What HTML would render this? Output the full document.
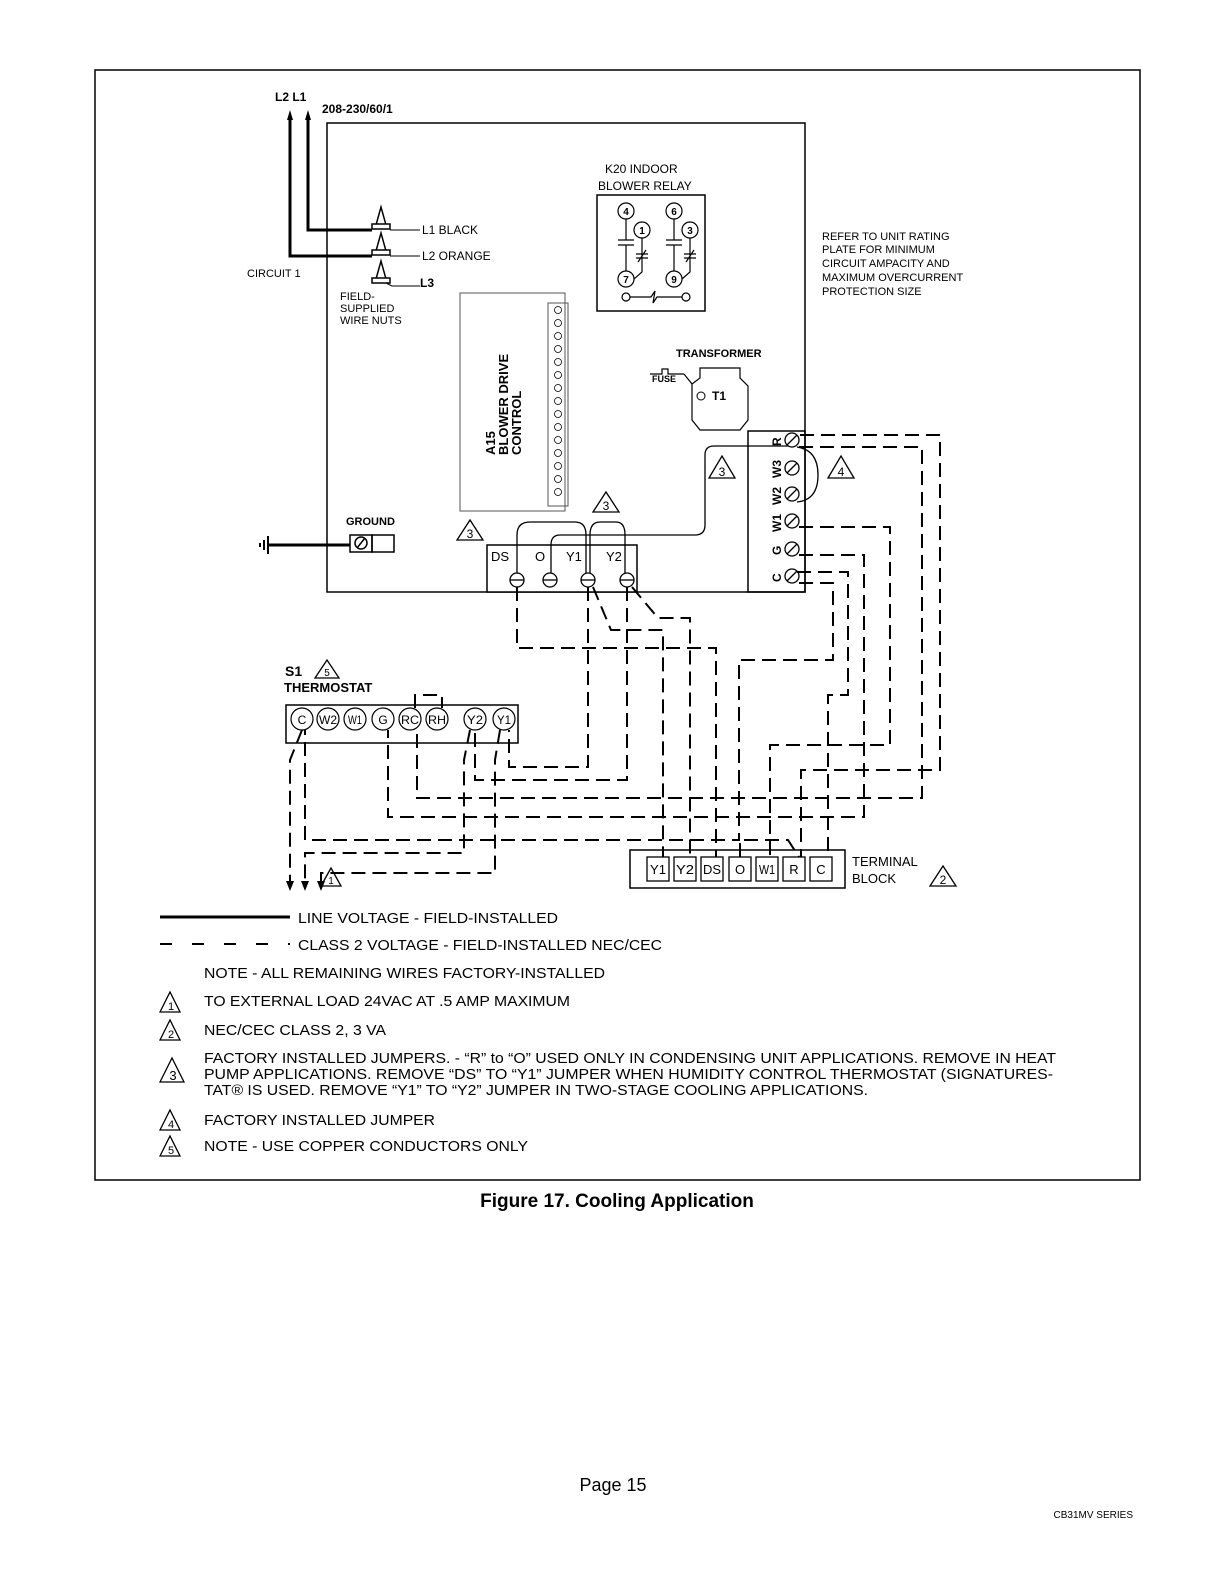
<!DOCTYPE html>
<html><head><meta charset="utf-8"><style>
html,body{margin:0;padding:0;background:#fff}
svg{display:block}
text{font-family:"Liberation Sans",sans-serif;fill:#000}
</style></head><body>
<svg width="1224" height="1584" viewBox="0 0 1224 1584" xmlns="http://www.w3.org/2000/svg">
<!-- outer frame -->
<rect x="95" y="70" width="1045" height="1110" fill="none" stroke="#000" stroke-width="1.5"/>
<!-- unit box -->
<rect x="327" y="123" width="478" height="469" fill="none" stroke="#000" stroke-width="1.5"/>

<!-- line voltage -->
<g stroke="#000" stroke-width="3" fill="none">
<path d="M308 118 V230 H372"/>
<path d="M290 118 V256 H372"/>
<path d="M268 545 H350"/>
</g>
<polygon points="308,110 305,120 311,120" fill="#000"/>
<polygon points="290,110 287,120 293,120" fill="#000"/>
<text x="275" y="101" font-size="12" font-weight="bold">L2 L1</text>
<text x="322" y="113" font-size="12" font-weight="bold">208-230/60/1</text>
<!-- wire nuts -->
<g stroke="#000" stroke-width="1.5" fill="#fff">
<path d="M376 225 L381 207 L386 225 Z"/><rect x="372" y="224" width="18" height="5"/>
<path d="M376 251 L381 233 L386 251 Z"/><rect x="372" y="250" width="18" height="5"/>
<path d="M376 279 L381 261 L386 279 Z"/><rect x="372" y="278" width="18" height="5"/>
</g>
<g stroke="#000" stroke-width="1" fill="none">
<path d="M390 230 H420"/><path d="M390 256 H420"/><path d="M386 283 L392 286 H420"/>
</g>
<text x="422" y="234" font-size="12">L1 BLACK</text>
<text x="422" y="260" font-size="12">L2 ORANGE</text>
<text x="420" y="287" font-size="12" font-weight="bold">L3</text>
<text x="247" y="277" font-size="11">CIRCUIT 1</text>
<text x="340" y="300" font-size="11">FIELD-</text>
<text x="340" y="312" font-size="11">SUPPLIED</text>
<text x="340" y="324" font-size="11">WIRE NUTS</text>

<!-- ground -->
<text x="346" y="525" font-size="11" font-weight="bold">GROUND</text>
<rect x="350" y="535" width="22" height="17" fill="none" stroke="#000" stroke-width="1.5"/>
<rect x="372" y="535" width="22" height="17" fill="none" stroke="#000" stroke-width="1.5"/>
<circle cx="361" cy="543" r="6" fill="none" stroke="#000" stroke-width="1.5"/>
<line x1="357" y1="548" x2="365" y2="538" stroke="#000" stroke-width="1.5"/>
<g stroke="#000" stroke-width="2"><line x1="264" y1="540" x2="264" y2="550"/><line x1="268" y1="536" x2="268" y2="554"/><line x1="260" y1="543" x2="260" y2="547"/></g>

<!-- K20 relay -->
<text x="605" y="173" font-size="12">K20 INDOOR</text>
<text x="598" y="190" font-size="12">BLOWER RELAY</text>
<rect x="597" y="195" width="108" height="116" fill="none" stroke="#000" stroke-width="1.5"/>
<g stroke="#000" stroke-width="1.2" fill="#fff">
<circle cx="626" cy="211" r="8"/><circle cx="642" cy="230" r="8"/><circle cx="626" cy="279" r="8"/>
<circle cx="674" cy="211" r="8"/><circle cx="690" cy="230" r="8"/><circle cx="674" cy="279" r="8"/>
<circle cx="626" cy="297" r="4"/><circle cx="686" cy="297" r="4"/>
<path d="M626 219 V240 M618 240 H634 M618 245 H634 M626 245 V271" fill="none"/>
<path d="M674 219 V240 M666 240 H682 M666 245 H682 M674 245 V271" fill="none"/>
<path d="M642 238 V272 L634 279 M636 254 L648 254 M636 258 H648 M638 262 L646 250" fill="none"/>
<path d="M690 238 V272 L682 279 M684 254 L696 254 M684 258 H696 M686 262 L694 250" fill="none"/>
<path d="M630 297 H651 L655 291 L653 303 L657 297 H682" fill="none"/>
</g>
<g font-size="10" font-weight="bold" text-anchor="middle">
<text x="626" y="215">4</text><text x="642" y="234">1</text><text x="626" y="283">7</text>
<text x="674" y="215">6</text><text x="690" y="234">3</text><text x="674" y="283">9</text>
</g>

<text x="822" y="240" font-size="11">REFER TO UNIT RATING</text>
<text x="822" y="253" font-size="11">PLATE FOR MINIMUM</text>
<text x="822" y="267" font-size="11">CIRCUIT AMPACITY AND</text>
<text x="822" y="281" font-size="11">MAXIMUM OVERCURRENT</text>
<text x="822" y="295" font-size="11">PROTECTION SIZE</text>

<!-- A15 -->
<rect x="460" y="293" width="105" height="218" fill="none" stroke="#555" stroke-width="1"/>
<rect x="548" y="303" width="20" height="203" fill="none" stroke="#555" stroke-width="1"/>
<g fill="none" stroke="#000" stroke-width="0.8">
<circle cx="558" cy="310" r="3.5"/><circle cx="558" cy="323" r="3.5"/><circle cx="558" cy="336" r="3.5"/><circle cx="558" cy="349" r="3.5"/><circle cx="558" cy="362" r="3.5"/><circle cx="558" cy="375" r="3.5"/><circle cx="558" cy="388" r="3.5"/><circle cx="558" cy="401" r="3.5"/><circle cx="558" cy="414" r="3.5"/><circle cx="558" cy="427" r="3.5"/><circle cx="558" cy="440" r="3.5"/><circle cx="558" cy="453" r="3.5"/><circle cx="558" cy="466" r="3.5"/><circle cx="558" cy="479" r="3.5"/><circle cx="558" cy="492" r="3.5"/>
</g>
<g transform="translate(495,455) rotate(-90)" font-size="13" font-weight="bold">
<text x="0" y="0">A15</text><text x="0" y="13">BLOWER DRIVE</text><text x="0" y="26">CONTROL</text>
</g>

<!-- transformer -->
<text x="676" y="357" font-size="11" font-weight="bold">TRANSFORMER</text>
<text x="652" y="382" font-size="9" font-weight="bold">FUSE</text>
<path d="M650 374 H662 V369 H668 V374 H684" fill="none" stroke="#000" stroke-width="1.2"/>
<path d="M684 374 L692 384 V420 L700 430 H740 L748 420 V386 L740 378 V368 H700 V378 L692 384" fill="none" stroke="#000" stroke-width="1.2"/>
<text x="712" y="400" font-size="12" font-weight="bold">T1</text>
<circle cx="701" cy="396" r="4" fill="none" stroke="#000"/>

<!-- low voltage block -->
<rect x="487" y="545" width="150" height="47" fill="#fff" stroke="#000" stroke-width="1.5"/>
<g font-size="13"><text x="491" y="561">DS</text><text x="535" y="561">O</text><text x="566" y="561">Y1</text><text x="606" y="561">Y2</text></g>
<g stroke="#000" stroke-width="1.3" fill="#fff">
<circle cx="517" cy="580" r="7"/><circle cx="550" cy="580" r="7"/><circle cx="588" cy="580" r="7"/><circle cx="627" cy="580" r="7"/>
</g>
<g stroke="#000" stroke-width="1.3"><line x1="510" y1="580" x2="524" y2="580"/><line x1="543" y1="580" x2="557" y2="580"/><line x1="581" y1="580" x2="595" y2="580"/><line x1="620" y1="580" x2="634" y2="580"/></g>
<!-- jumpers -->
<g stroke="#000" stroke-width="1.3" fill="none">
<path d="M517 573 V535 Q517 522 530 522 H575 Q586 522 586 535 V573"/>
<path d="M590 573 V535 Q590 522 600 522 H616 Q625 522 625 535 V573"/>
<path d="M551 573 V545 Q551 535 560 535 H695 Q705 535 705 525 V455 Q705 446 714 446 H790"/>
<path d="M797 447 Q818 450 818 475 Q818 500 797 502"/>
</g>
<!-- right TB -->
<rect x="748" y="431" width="57" height="161" fill="none" stroke="#000" stroke-width="1.5"/>
<g stroke="#000" stroke-width="1.3" fill="#fff">
<circle cx="792" cy="440" r="7"/><circle cx="792" cy="468" r="7"/><circle cx="792" cy="494" r="7"/><circle cx="792" cy="521" r="7"/><circle cx="792" cy="549" r="7"/><circle cx="792" cy="576" r="7"/>
</g>
<g stroke="#000" stroke-width="1.3"><line x1="787" y1="445" x2="797" y2="435"/><line x1="787" y1="473" x2="797" y2="463"/><line x1="787" y1="499" x2="797" y2="489"/><line x1="787" y1="526" x2="797" y2="516"/><line x1="787" y1="554" x2="797" y2="544"/><line x1="787" y1="581" x2="797" y2="571"/></g>
<g font-size="12" font-weight="bold">
<text transform="translate(781,446) rotate(-90)">R</text>
<text transform="translate(781,478) rotate(-90)">W3</text>
<text transform="translate(781,505) rotate(-90)">W2</text>
<text transform="translate(781,532) rotate(-90)">W1</text>
<text transform="translate(781,555) rotate(-90)">G</text>
<text transform="translate(781,582) rotate(-90)">C</text>
</g>

<!-- triangles -->
<g stroke="#000" stroke-width="1.3" fill="#fff">
<path d="M709 478 L722 456 L735 478 Z"/><path d="M828 478 L841 456 L854 478 Z"/>
<path d="M593 512 L606 492 L619 512 Z"/><path d="M457 540 L470 520 L483 540 Z"/>
<path d="M315 678 L327 660 L339 678 Z"/><path d="M930 886 L943 866 L956 886 Z"/>
<path d="M321 886 L331 868 L341 886 Z"/>
</g>
<g font-size="12" text-anchor="middle">
<text x="722" y="476">3</text><text x="841" y="476">4</text><text x="606" y="510">3</text><text x="470" y="538">3</text>
<text x="327" y="676" font-size="10">5</text><text x="943" y="884">2</text><text x="331" y="884" font-size="10">1</text>
</g>

<!-- thermostat -->
<text x="285" y="676" font-size="14" font-weight="bold">S1</text>
<text x="284" y="692" font-size="13" font-weight="bold">THERMOSTAT</text>
<rect x="286" y="705" width="232" height="38" fill="none" stroke="#000" stroke-width="1.5"/>
<g stroke="#000" stroke-width="1.2" fill="#fff">
<circle cx="302" cy="719" r="11"/><circle cx="328" cy="719" r="11"/><circle cx="355" cy="719" r="11"/><circle cx="383" cy="719" r="11"/>
<circle cx="410" cy="719" r="11"/><circle cx="437" cy="719" r="11"/><circle cx="475" cy="719" r="11"/><circle cx="504" cy="719" r="11"/>
</g>
<g font-size="12" text-anchor="middle">
<text x="302" y="724">C</text><text x="328" y="724" textLength="18" lengthAdjust="spacingAndGlyphs">W2</text><text x="355" y="724" textLength="14" lengthAdjust="spacingAndGlyphs">W1</text><text x="383" y="724">G</text>
<text x="410" y="724" textLength="18" lengthAdjust="spacingAndGlyphs">RC</text><text x="437" y="724" textLength="18" lengthAdjust="spacingAndGlyphs">RH</text><text x="475" y="724" textLength="16" lengthAdjust="spacingAndGlyphs">Y2</text><text x="504" y="724" textLength="14" lengthAdjust="spacingAndGlyphs">Y1</text>
</g>

<!-- terminal block -->
<rect x="630" y="850" width="215" height="38" fill="none" stroke="#000" stroke-width="1.5"/>
<g stroke="#000" stroke-width="1.3" fill="#fff">
<rect x="647" y="857" width="22" height="24"/><rect x="674" y="857" width="22" height="24"/><rect x="701" y="857" width="22" height="24"/><rect x="729" y="857" width="22" height="24"/><rect x="756" y="857" width="22" height="24"/><rect x="783" y="857" width="22" height="24"/><rect x="810" y="857" width="22" height="24"/>
</g>
<g font-size="13" text-anchor="middle">
<text x="658" y="874" textLength="16" lengthAdjust="spacingAndGlyphs">Y1</text><text x="685" y="874" textLength="18" lengthAdjust="spacingAndGlyphs">Y2</text><text x="712" y="874" textLength="18" lengthAdjust="spacingAndGlyphs">DS</text><text x="740" y="874">O</text><text x="767" y="874" textLength="16" lengthAdjust="spacingAndGlyphs">W1</text><text x="794" y="874">R</text><text x="821" y="874">C</text>
</g>
<text x="852" y="866" font-size="13">TERMINAL</text>
<text x="852" y="883" font-size="13">BLOCK</text>

<!-- dashed wiring -->
<g stroke="#000" stroke-width="2" fill="none" stroke-dasharray="14,7">
<path d="M800 435 H940 V770 H801 V857"/>
<path d="M799 447 H922 V798 H417 V730"/>
<path d="M799 527 H890 V745 H770 V857"/>
<path d="M799 555 H864 V817 H388 V730"/>
<path d="M797 572 H848 V695 H828 V857"/>
<path d="M799 583 H833 V660 H739 V840 H305 V730"/>
<path d="M517 587 V648 H716 V857"/>
<path d="M588 587 V767 H509 V730"/>
<path d="M593 587 L611 630 H663 V857"/>
<path d="M627 587 V780 H475 V730"/>
<path d="M632 587 L658 618 H690 V857"/>
<path d="M740 857 V840 H788 L799 857"/>
<path d="M415 708 V695 H442 V708"/>
<path d="M302 730 L290 760 V885"/>
<path d="M470 730 L464 760 V853 H305 V885"/>
<path d="M500 730 L495 760 V873 H321 V885"/>
</g>
<g fill="#000"><polygon points="290,891 286,881 294,881"/><polygon points="305,891 301,881 309,881"/><polygon points="321,891 317,881 325,881"/></g>

<!-- legend -->
<line x1="160" y1="917" x2="290" y2="917" stroke="#000" stroke-width="3"/>
<line x1="160" y1="944" x2="290" y2="944" stroke="#000" stroke-width="2" stroke-dasharray="12,20"/>
<g font-size="14.5">
<text x="298" y="923" textLength="260" lengthAdjust="spacingAndGlyphs">LINE VOLTAGE - FIELD-INSTALLED</text>
<text x="298" y="950" textLength="364" lengthAdjust="spacingAndGlyphs">CLASS 2 VOLTAGE - FIELD-INSTALLED NEC/CEC</text>
<text x="204" y="978" textLength="401" lengthAdjust="spacingAndGlyphs">NOTE - ALL REMAINING WIRES FACTORY-INSTALLED</text>
<text x="204" y="1006" textLength="366" lengthAdjust="spacingAndGlyphs">TO EXTERNAL LOAD 24VAC AT .5 AMP MAXIMUM</text>
<text x="204" y="1035" textLength="182" lengthAdjust="spacingAndGlyphs">NEC/CEC CLASS 2, 3 VA</text>
<text x="204" y="1063" textLength="852" lengthAdjust="spacingAndGlyphs">FACTORY INSTALLED JUMPERS. - “R” to “O” USED ONLY IN CONDENSING UNIT APPLICATIONS. REMOVE IN HEAT</text>
<text x="204" y="1079" textLength="849" lengthAdjust="spacingAndGlyphs">PUMP APPLICATIONS. REMOVE “DS” TO “Y1” JUMPER WHEN HUMIDITY CONTROL  THERMOSTAT (SIGNATURES-</text>
<text x="204" y="1095" textLength="664" lengthAdjust="spacingAndGlyphs">TAT® IS USED. REMOVE “Y1” TO “Y2” JUMPER IN TWO-STAGE COOLING APPLICATIONS.</text>
<text x="204" y="1125" textLength="231" lengthAdjust="spacingAndGlyphs">FACTORY INSTALLED JUMPER</text>
<text x="204" y="1151" textLength="324" lengthAdjust="spacingAndGlyphs">NOTE - USE COPPER CONDUCTORS ONLY</text>
</g>
<g stroke="#000" stroke-width="1.3" fill="#fff">
<path d="M160 1012 L170 992 L180 1012 Z"/><path d="M160 1040 L170 1020 L180 1040 Z"/>
<path d="M160 1082 L172 1058 L184 1082 Z"/><path d="M160 1130 L170 1110 L180 1130 Z"/><path d="M160 1156 L170 1136 L180 1156 Z"/>
</g>
<g font-size="11" text-anchor="middle"><text x="171" y="1010">1</text><text x="171" y="1038">2</text><text x="173" y="1080" font-size="13">3</text><text x="171" y="1128">4</text><text x="171" y="1154">5</text></g>

<text x="617" y="1207" font-size="19" font-weight="bold" text-anchor="middle">Figure 17. Cooling Application</text>
<text x="613" y="1491" font-size="18" text-anchor="middle">Page 15</text>
<text x="1133" y="1518" font-size="10" text-anchor="end">CB31MV SERIES</text>
</svg>
</body></html>
